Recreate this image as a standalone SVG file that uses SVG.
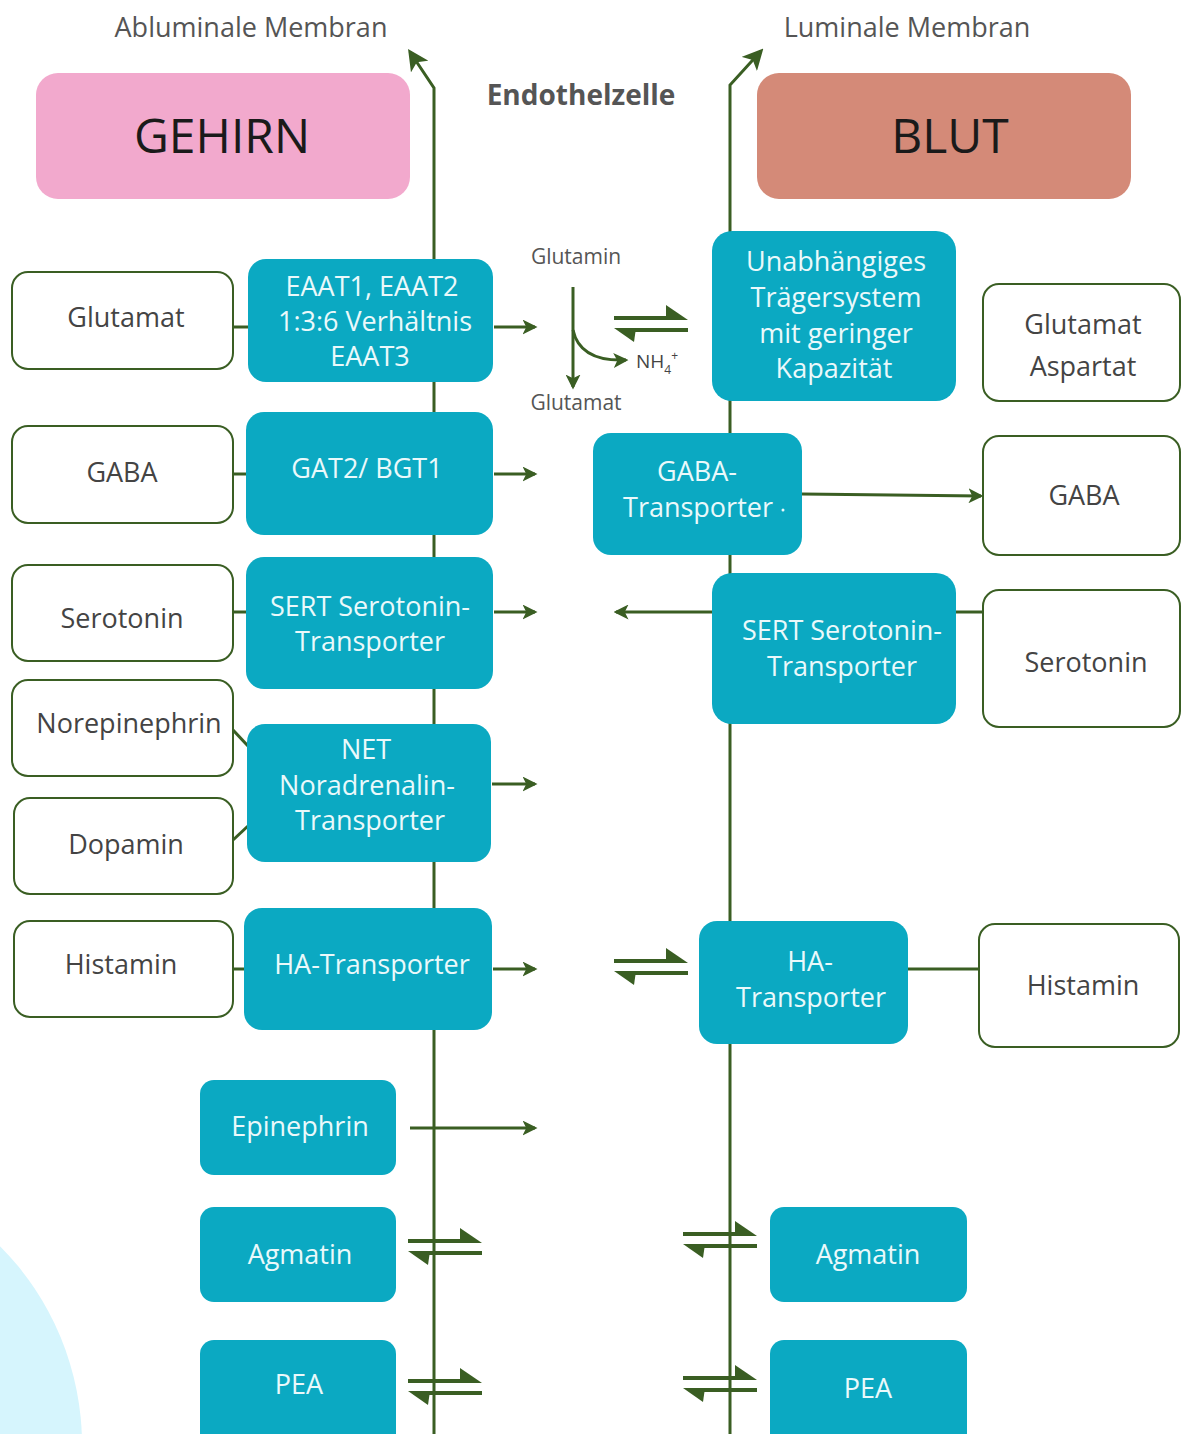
<svg xmlns="http://www.w3.org/2000/svg" width="1182" height="1434" viewBox="0 0 1182 1434">
<style>
.t{font-family:"Open Sans","Liberation Sans",sans-serif;text-anchor:middle}
.teal{fill:#0BA9C2}
.tw{font-size:27px;fill:#EAF9FB}
.wb{fill:#fff;stroke:#3A5E23;stroke-width:2}
.tg{font-size:27px;fill:#444}
.ln{stroke:#3A5E23;stroke-width:3;fill:none}
.ar{stroke:#3A5E23;stroke-width:3;fill:none;marker-end:url(#ah)}
.arb{stroke:#3A5E23;stroke-width:3;fill:none;marker-end:url(#ahb)}
.hd{fill:#3A5E23}
</style>
<defs>
<marker id="ah" viewBox="0 0 12 12" refX="10" refY="6" markerWidth="5" markerHeight="5" markerUnits="strokeWidth" orient="auto">
<path d="M0,0 L12,6 L0,12 L3,6 z" fill="#3A5E23"/>
</marker>
<marker id="ahb" viewBox="0 0 12 12" refX="10" refY="6" markerWidth="7" markerHeight="7" markerUnits="strokeWidth" orient="auto">
<path d="M0,0 L12,6 L0,12 L3,6 z" fill="#3A5E23"/>
</marker>
<g id="eq">
<rect x="0" y="-2" width="58" height="4" class="hd"/>
<polygon points="52,-13 74,2 52,2" class="hd"/>
<rect x="16" y="10" width="58" height="4" class="hd"/>
<polygon points="0,10 22,10 20,24" class="hd"/>
</g>
</defs>
<rect width="1182" height="1434" fill="#fff"/>
<circle cx="-200" cy="1445" r="282" fill="#D6F5FD"/>

<g id="connectors">
<path class="arb" d="M434,1434 L434,88 L410,52"/>
<path class="arb" d="M730,1434 L730,85 L761,51"/>
<line class="ln" x1="233" y1="327" x2="248" y2="327"/>
<line class="ln" x1="233" y1="474" x2="246" y2="474"/>
<line class="ln" x1="233" y1="612" x2="246" y2="612"/>
<line class="ln" x1="233" y1="730" x2="248" y2="746"/>
<line class="ln" x1="233" y1="840" x2="248" y2="826"/>
<line class="ln" x1="233" y1="969" x2="244" y2="969"/>
<line class="ar" x1="494" y1="327" x2="535" y2="327"/>
<line class="ar" x1="494" y1="474" x2="535" y2="474"/>
<line class="ar" x1="494" y1="612" x2="535" y2="612"/>
<line class="ar" x1="492" y1="784" x2="535" y2="784"/>
<line class="ar" x1="493" y1="969" x2="535" y2="969"/>
<line class="ar" x1="410" y1="1128" x2="535" y2="1128"/>
<line class="ar" x1="712" y1="612" x2="616" y2="612"/>
<line class="ar" x1="802" y1="494" x2="981" y2="496"/>
<line class="ln" x1="956" y1="612" x2="983" y2="612"/>
<line class="ln" x1="908" y1="969" x2="979" y2="969"/>
<line class="ar" x1="573" y1="287" x2="573" y2="387"/>
<path class="ar" d="M573,330 Q580,362 626,360"/>
<use href="#eq" x="614" y="318"/>
<use href="#eq" x="614" y="961"/>
<use href="#eq" x="408" y="1241"/>
<use href="#eq" x="683" y="1234"/>
<use href="#eq" x="408" y="1381"/>
<use href="#eq" x="683" y="1378"/>
</g>

<text class="t" x="251" y="37" style="font-size:27px;fill:#555">Abluminale Membran</text>
<text class="t" x="907" y="37" style="font-size:27px;fill:#555">Luminale Membran</text>
<text class="t" x="581" y="105" style="font-size:28px;font-weight:bold;fill:#555">Endothelzelle</text>

<g id="gehirn"><rect x="36" y="73" width="374" height="126" rx="22" fill="#F2A9CD"/><text class="t" x="222" y="153" style="font-size:48px;fill:#1a1a1a">GEHIRN</text></g>
<g id="blut"><rect x="757" y="73" width="374" height="126" rx="22" fill="#D48A78"/><text class="t" x="950" y="153" style="font-size:48px;fill:#1a1a1a">BLUT</text></g>

<g id="glutamin-label"><text class="t" x="576" y="264" style="font-size:21px;fill:#555">Glutamin</text></g>
<g id="glutamat-label"><text class="t" x="576" y="410" style="font-size:21px;fill:#555">Glutamat</text></g>
<g id="nh4"><text x="636" y="368" style="font-family:'Open Sans',sans-serif;font-size:19px;fill:#444">NH<tspan font-size="12" dy="6">4</tspan><tspan font-size="12" dy="-14">+</tspan></text></g>

<g id="l-glutamat"><rect class="wb" x="12" y="272" width="221" height="97" rx="16"/><text class="t tg" x="126" y="327">Glutamat</text></g>
<g id="l-gaba"><rect class="wb" x="12" y="426" width="221" height="97" rx="16"/><text class="t tg" x="122" y="482">GABA</text></g>
<g id="l-serotonin"><rect class="wb" x="12" y="565" width="221" height="96" rx="16"/><text class="t tg" x="122" y="628">Serotonin</text></g>
<g id="l-norepinephrin"><rect class="wb" x="12" y="680" width="221" height="96" rx="16"/><text class="t tg" x="129" y="733">Norepinephrin</text></g>
<g id="l-dopamin"><rect class="wb" x="14" y="798" width="219" height="96" rx="16"/><text class="t tg" x="126" y="854">Dopamin</text></g>
<g id="l-histamin"><rect class="wb" x="14" y="921" width="219" height="96" rx="16"/><text class="t tg" x="121" y="974">Histamin</text></g>

<g id="eaat"><rect class="teal" x="248" y="259" width="245" height="123" rx="18"/><text class="t tw" x="372" y="296">EAAT1, EAAT2</text><text class="t tw" x="375" y="331">1:3:6 Verhältnis</text><text class="t tw" x="370" y="366">EAAT3</text></g>
<g id="gat"><rect class="teal" x="246" y="412" width="247" height="123" rx="18"/><text class="t tw" x="367" y="478">GAT2/ BGT1</text></g>
<g id="sert-l"><rect class="teal" x="246" y="557" width="247" height="132" rx="18"/><text class="t tw" x="370" y="616">SERT Serotonin-</text><text class="t tw" x="370" y="651">Transporter</text></g>
<g id="net"><rect class="teal" x="247" y="724" width="244" height="138" rx="18"/><text class="t tw" x="366" y="759">NET</text><text class="t tw" x="367" y="795">Noradrenalin-</text><text class="t tw" x="370" y="830">Transporter</text></g>
<g id="ha-l"><rect class="teal" x="244" y="908" width="248" height="122" rx="18"/><text class="t tw" x="372" y="974">HA-Transporter</text></g>
<g id="epinephrin"><rect class="teal" x="200" y="1080" width="196" height="95" rx="14"/><text class="t tw" x="300" y="1136">Epinephrin</text></g>
<g id="agmatin-l"><rect class="teal" x="200" y="1207" width="196" height="95" rx="14"/><text class="t tw" x="300" y="1264">Agmatin</text></g>
<g id="pea-l"><rect class="teal" x="200" y="1340" width="196" height="110" rx="14"/><text class="t tw" x="299" y="1394">PEA</text></g>

<g id="unabh"><rect class="teal" x="712" y="231" width="244" height="170" rx="20"/><text class="t tw" x="836" y="271">Unabhängiges</text><text class="t tw" x="836" y="307">Trägersystem</text><text class="t tw" x="836" y="343">mit geringer</text><text class="t tw" x="834" y="378">Kapazität</text></g>
<g id="gaba-t"><rect class="teal" x="593" y="433" width="209" height="122" rx="18"/><text class="t tw" x="697" y="481">GABA-</text><text class="t tw" x="698" y="517">Transporter</text><circle cx="783" cy="510" r="1.5" fill="#EAF9FB"/></g>
<g id="sert-r"><rect class="teal" x="712" y="573" width="244" height="151" rx="20"/><text class="t tw" x="842" y="640">SERT Serotonin-</text><text class="t tw" x="842" y="676">Transporter</text></g>
<g id="ha-r"><rect class="teal" x="699" y="921" width="209" height="123" rx="18"/><text class="t tw" x="810" y="971">HA-</text><text class="t tw" x="811" y="1007">Transporter</text></g>
<g id="agmatin-r"><rect class="teal" x="770" y="1207" width="197" height="95" rx="14"/><text class="t tw" x="868" y="1264">Agmatin</text></g>
<g id="pea-r"><rect class="teal" x="770" y="1340" width="197" height="110" rx="14"/><text class="t tw" x="868" y="1398">PEA</text></g>

<g id="r-glutamat"><rect class="wb" x="983" y="284" width="197" height="117" rx="16"/><text class="t tg" x="1083" y="334">Glutamat</text><text class="t tg" x="1083" y="376">Aspartat</text></g>
<g id="r-gaba"><rect class="wb" x="983" y="436" width="197" height="119" rx="16"/><text class="t tg" x="1084" y="505">GABA</text></g>
<g id="r-serotonin"><rect class="wb" x="983" y="590" width="197" height="137" rx="16"/><text class="t tg" x="1086" y="672">Serotonin</text></g>
<g id="r-histamin"><rect class="wb" x="979" y="924" width="200" height="123" rx="16"/><text class="t tg" x="1083" y="995">Histamin</text></g>
</svg>
